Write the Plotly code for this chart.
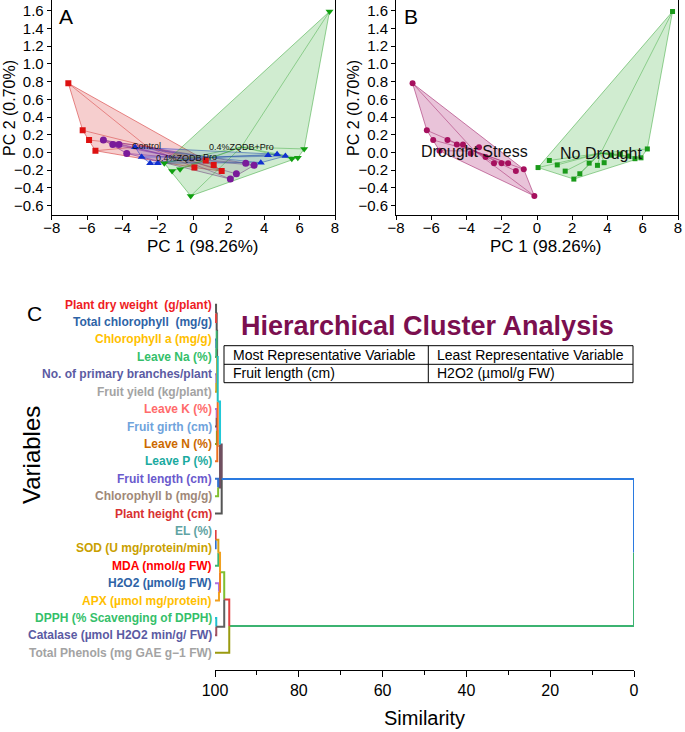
import plotly.graph_objects as go

# ---------------- Data: PCA scores (panel A / B) ----------------
group_names = ["Control", "0.4%ZQDB", "Pro", "0.4%ZQDB+Pro"]
ctrl_pc1 = [-7.06, -6.25, -5.89, -5.53, 0.70, 1.15, 1.60, 0.06]
ctrl_pc2 = [0.78, 0.25, 0.14, 0.02, -0.09, -0.14, -0.21, -0.17]
zqdb_pc1 = [-5.08, -4.55, -4.20, -3.76, 2.96, 3.43, 2.43, 2.09]
zqdb_pc2 = [0.14, 0.09, 0.09, -0.01, -0.12, -0.145, -0.24, -0.30]
pro_pc1 = [-3.29, -2.92, -2.44, -2.01, 3.81, 4.22, 4.73, 5.20]
pro_pc2 = [0.06, -0.05, -0.12, -0.12, -0.115, -0.03, -0.02, -0.04]
zp_pc1 = [-1.64, -1.20, -0.75, -0.15, 5.56, 5.90, 6.26, 7.69]
zp_pc2 = [-0.12, -0.21, -0.19, -0.49, -0.07, -0.06, 0.04, 1.59]
drought_flag = [1, 1, 1, 1, 0, 0, 0, 0]   # per replicate within each group
drought_names = ["Drought Stress", "No Drought"]

# ---------------- Data: dendrogram (panel C) ----------------
leaf_labels = [
    "Plant dry weight  (g/plant)", "Total chlorophyll  (mg/g)", "Chlorophyll a (mg/g)",
    "Leave Na (%)", "No. of primary branches/plant", "Fruit yield (kg/plant)",
    "Leave K (%)", "Fruit girth (cm)", "Leave N (%)", "Leave P (%)",
    "Fruit length (cm)", "Chlorophyll b (mg/g)", "Plant height (cm)",
    "EL (%)", "SOD (U mg/protein/min)", "MDA (nmol/g FW)", "H2O2 (µmol/g FW)",
    "APX (µmol mg/protein)", "DPPH (% Scavenging of DPPH)",
    "Catalase (µmol H2O2 min/g/ FW)", "Total Phenols (mg GAE g\u22121 FW)",
]
leaf_label_colors = [
    "#ee1c24", "#2e63a6", "#ffc000", "#35bf6a", "#5b5ba3", "#a3a3a3",
    "#ff6b6b", "#6fa3dc", "#cc6a00", "#1aaaa0", "#6a5acd", "#a08878",
    "#d83232", "#5fa3a3", "#c9a000", "#ff0000", "#2e63a6", "#ffc000",
    "#35bf6a", "#5b5ba3", "#a3a3a3",
]
leaf_link_colors = [
    "#555555", "#e0413c", "#2f6fd0", "#3cb371", "#a080d0", "#d4a017",
    "#b070e0", "#705060", "#8a9a20", "#f07020", "#3070d0", "#80c030",
    "#555555", "#e04040", "#2f6fd0", "#3cb371", "#b070e0", "#f0a020",
    "#20c0d0", "#a05060", "#9a9a10",
]
# merges: (left node, right node, similarity); node ids 0-20 leaves, 21+ merges
merge_left = [0, 2, 4, 21, 24, 6, 26, 27, 25, 10, 29, 31, 13, 33, 16, 34, 18, 36, 38, 32]
merge_right = [1, 3, 5, 22, 23, 7, 8, 9, 28, 11, 30, 12, 14, 15, 17, 35, 19, 37, 20, 39]
merge_sim = [99.75, 99.7, 99.7, 99.6, 99.5, 99.6, 99.55, 99.45, 99.35, 99.25, 98.8, 98.4,
             99.85, 99.2, 99.05, 98.8, 99.7, 97.8, 96.6, 0.0]
merge_link_colors = [
    "#555555", "#3cb371", "#d4a017", "#555555", "#20c0c0", "#b070e0", "#8a9a20",
    "#f07020", "#20c8d8", "#705060", "#705060", "#2a7ae0", "#d4a017", "#f0a020",
    "#f08020", "#80c030", "#606060", "#e04040", "#3cb371", "#000000",
]

FONT = "Arial, Liberation Sans, sans-serif"
W, H = 685, 732


def px(x):
    return x / W


def py(y):
    return 1 - y / H


def hull(xs, ys):
    pts = sorted(set(zip(xs, ys)))
    if len(pts) < 3:
        return pts

    def cross(o, a, b):
        return (a[0] - o[0]) * (b[1] - o[1]) - (a[1] - o[1]) * (b[0] - o[0])

    lower, upper = [], []
    for p in pts:
        while len(lower) >= 2 and cross(lower[-2], lower[-1], p) <= 0:
            lower.pop()
        lower.append(p)
    for p in reversed(pts):
        while len(upper) >= 2 and cross(upper[-2], upper[-1], p) <= 0:
            upper.pop()
        upper.append(p)
    h = lower[:-1] + upper[:-1]
    return h + [h[0]]


fig = go.Figure()
annotations = []


def add_group(xs, ys, color, fill, line_col, symbol, size, label, lsize, xa, ya):
    cx = sum(xs) / len(xs)
    cy = sum(ys) / len(ys)
    hp = hull(xs, ys)
    fig.add_trace(go.Scatter(x=[p[0] for p in hp], y=[p[1] for p in hp], mode="lines",
                             fill="toself", fillcolor=fill,
                             line=dict(color=line_col, width=0.8),
                             xaxis=xa, yaxis=ya, showlegend=False, hoverinfo="skip"))
    sx, sy = [], []
    for x, y in zip(xs, ys):
        sx += [cx, x, None]
        sy += [cy, y, None]
    fig.add_trace(go.Scatter(x=sx, y=sy, mode="lines", line=dict(color=line_col, width=0.7),
                             xaxis=xa, yaxis=ya, showlegend=False, hoverinfo="skip"))
    return dict(xs=xs, ys=ys, color=color, symbol=symbol, size=size,
                label=label, cx=cx, cy=cy, lsize=lsize, xa=xa, ya=ya)


groups_A = [
    (ctrl_pc1, ctrl_pc2, "#dd1111", "rgba(220,60,60,0.25)", "rgba(215,60,60,0.75)", "square", 6),
    (zqdb_pc1, zqdb_pc2, "#7a1a9a", "rgba(130,40,150,0.15)", "rgba(130,40,150,0.7)", "circle", 7),
    (pro_pc1, pro_pc2, "#1030d0", "rgba(40,60,210,0.15)", "rgba(40,60,210,0.7)", "triangle-up", 7),
    (zp_pc1, zp_pc2, "#10a010", "rgba(40,170,40,0.22)", "rgba(40,160,40,0.6)", "triangle-down", 7),
]
marks = []
for (xs, ys, c, f, lc, sym, sz), name in zip(groups_A, group_names):
    marks.append(add_group(xs, ys, c, f, lc, sym, sz, name, 9, "x", "y"))

# Panel B: regroup by drought condition
all_x = ctrl_pc1 + zqdb_pc1 + pro_pc1 + zp_pc1
all_y = ctrl_pc2 + zqdb_pc2 + pro_pc2 + zp_pc2
all_flag = drought_flag * 4
dx = [x for x, f in zip(all_x, all_flag) if f == 1]
dy = [y for y, f in zip(all_y, all_flag) if f == 1]
nx = [x for x, f in zip(all_x, all_flag) if f == 0]
ny = [y for y, f in zip(all_y, all_flag) if f == 0]
marks.append(add_group(dx, dy, "#a6105e", "rgba(175,40,120,0.28)", "rgba(165,40,110,0.75)",
                       "circle", 6, drought_names[0], 16, "x2", "y2"))
marks.append(add_group(nx, ny, "#1a9a1a", "rgba(40,170,40,0.22)", "rgba(40,160,40,0.6)",
                       "square", 5, drought_names[1], 16, "x2", "y2"))

for m in marks:
    fig.add_trace(go.Scatter(x=m["xs"], y=m["ys"], mode="markers",
                             marker=dict(color=m["color"], symbol=m["symbol"], size=m["size"],
                                         line=dict(width=0)),
                             xaxis=m["xa"], yaxis=m["ya"], showlegend=False))
    annotations.append(dict(x=m["cx"], y=m["cy"], xref=m["xa"], yref=m["ya"], text=m["label"],
                            showarrow=False, font=dict(family=FONT, size=m["lsize"], color="#111")))

# ---------------- Dendrogram ----------------
n_leaves = len(leaf_labels)
node_x = [100.0] * n_leaves
node_y = list(range(n_leaves))
node_col = list(leaf_link_colors)
segs = {}
for l, r, s, c in zip(merge_left, merge_right, merge_sim, merge_link_colors):
    ym = (node_y[l] + node_y[r]) / 2
    for ch in (l, r):
        col = node_col[ch]
        segs.setdefault(col, ([], []))
        segs[col][0].extend([node_x[ch], s, s, None])
        segs[col][1].extend([node_y[ch], node_y[ch], ym, None])
    node_x.append(s)
    node_y.append(ym)
    node_col.append(c)

for col, (xs, ys) in segs.items():
    fig.add_trace(go.Scatter(x=xs, y=ys, mode="lines", line=dict(color=col, width=2),
                             xaxis="x3", yaxis="y3", showlegend=False, hoverinfo="skip",
                             cliponaxis=False))

for i, (lab, col) in enumerate(zip(leaf_labels, leaf_label_colors)):
    annotations.append(dict(x=100, y=i, xref="x3", yref="y3", text="<b>%s</b>" % lab,
                            xanchor="right", xshift=-1, showarrow=False,
                            font=dict(family=FONT, size=12, color=col)))

# ---------------- Text ----------------
def ann(x, y, text, size, color="black", angle=0, xanchor="center", bold=False):
    annotations.append(dict(x=px(x), y=py(y), xref="paper", yref="paper",
                            text=("<b>%s</b>" % text) if bold else text,
                            showarrow=False, textangle=angle, xanchor=xanchor, yanchor="middle",
                            font=dict(family=FONT, size=size, color=color)))


ann(66, 16, "A", 21)
ann(411, 16, "B", 21)
ann(34, 314, "C", 21)
ann(203, 246, "PC 1 (98.26%)", 17)
ann(546, 246, "PC 1 (98.26%)", 17)
ann(10, 108, "PC 2 (0.70%)", 16, angle=-90)
ann(354, 108, "PC 2 (0.70%)", 16, angle=-90)
ann(31, 455, "Variables", 24, angle=-90)
ann(424, 718, "Similarity", 20)
ann(427, 326, "Hierarchical Cluster Analysis", 27, color="#7b0f4f", bold=True)
ann(231, 355, "Most Representative Variable", 14, xanchor="left")
ann(435, 355, "Least Representative Variable", 14, xanchor="left")
ann(231, 373, "Fruit length (cm)", 14, xanchor="left")
ann(435, 373, "H2O2 (µmol/g FW)", 14, xanchor="left")

shapes = [
    dict(type="rect", xref="paper", yref="paper", x0=px(224), x1=px(633), y0=py(345.7), y1=py(382.7),
         line=dict(color="black", width=1)),
    dict(type="line", xref="paper", yref="paper", x0=px(224), x1=px(633), y0=py(364.3), y1=py(364.3),
         line=dict(color="black", width=1)),
    dict(type="line", xref="paper", yref="paper", x0=px(428.3), x1=px(428.3), y0=py(345.7), y1=py(382.7),
         line=dict(color="black", width=1)),
]

ax_common = dict(showgrid=False, zeroline=False, showline=True, linecolor="black", linewidth=1,
                 ticks="outside", ticklen=4, tickcolor="black", automargin=False,
                 tickfont=dict(family=FONT, size=15, color="black"))
ydom = [py(215), py(0)]
yrng = [-0.705, 1.72]
fig.update_layout(
    width=W, height=H, margin=dict(l=0, r=0, t=0, b=0, autoexpand=False),
    paper_bgcolor="white", plot_bgcolor="white", showlegend=False,
    xaxis=dict(domain=[px(51.7), px(335)], range=[-8, 8], dtick=2, anchor="y",
               ticklabelstandoff=-5, **ax_common),
    yaxis=dict(domain=ydom, range=yrng, dtick=0.2, tick0=0, tickformat=".1f",
               mirror=True, anchor="x", **ax_common),
    xaxis2=dict(domain=[px(396), px(678)], range=[-8, 8], dtick=2, anchor="y2",
                ticklabelstandoff=-5, **ax_common),
    yaxis2=dict(domain=ydom, range=yrng, dtick=0.2, tick0=0, tickformat=".1f",
                mirror=True, anchor="x2", **ax_common),
    xaxis3=dict(domain=[px(215), px(634)], range=[100, 0], dtick=20, anchor="y3", automargin=False,
                showgrid=False, zeroline=False, showline=True, linecolor="black", linewidth=1.2,
                ticks="outside", ticklen=6, tickcolor="black",
                minor=dict(dtick=10, ticks="outside", ticklen=4, tickcolor="black", showgrid=False),
                tickfont=dict(family=FONT, size=16, color="black")),
    yaxis3=dict(domain=[py(670), py(295)], range=[20.99, -0.557], anchor="x3", visible=False,
                automargin=False),
    annotations=annotations, shapes=shapes,
)

fig.write_html("out.html", config={"displayModeBar": False},
               post_script="document.body.style.margin='0';document.body.style.padding='0';")
